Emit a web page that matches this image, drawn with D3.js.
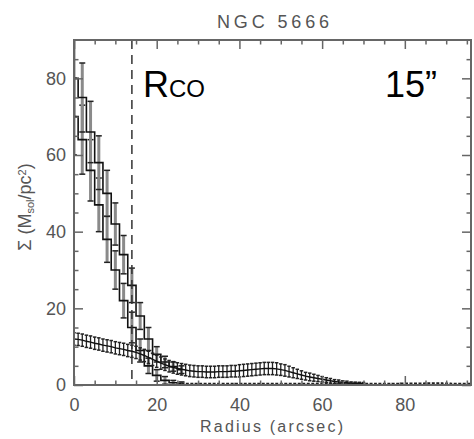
<!DOCTYPE html>
<html><head><meta charset="utf-8">
<script src="https://cdn.jsdelivr.net/npm/d3@7"></script>
<style>body{margin:0;background:#fff}svg{display:block}</style>
</head><body><svg id="c" width="474" height="439"></svg>
<script>
const titleText = "NGC 5666";
const xLabel = "Radius (arcsec)";
const xTicks = [0, 20, 40, 60, 80];
const yTicks = [0, 20, 40, 60, 80];
const xMinor = [5, 10, 15, 25, 30, 35, 45, 50, 55, 65, 70, 75, 85, 90, 95];
const yMinor = [5, 10, 15, 25, 30, 35, 45, 50, 55, 65, 70, 75, 85];
const rCO = 14;

// steep (CO) profiles, 2" bins
const steepR    = [0, 2, 4, 6, 8, 10, 12, 14, 16, 18, 20, 22, 24, 26];
const steepA    = [70, 64, 56, 47, 38, 30, 22, 15, 9, 5, 2.5, 1.2, 0.6, 0.4];
const steepAErr = [10, 9, 8, 7, 6, 5, 4.5, 4, 3, 2, 1.5, 1, 0.6, 0.4];
const steepB    = [80, 75, 66, 58, 50, 42, 34, 26, 18, 12, 8, 6, 4.8, 4];
const steepBErr = [10, 9, 8, 7, 6, 5.5, 5, 4.5, 3.5, 3, 2, 1.5, 1.2, 1];

// near-zero tail of the steep profile
const tailR = [26, 28, 30, 32, 34, 36, 38, 40, 42, 44, 46, 48, 50, 52, 54, 56, 58, 60, 62, 64, 66, 68, 70, 72, 74, 76, 78, 80, 82, 84, 86, 88, 90, 92, 94, 96];
const tailV = [0.4, 0.35, 0.3, 0.3, 0.3, 0.3, 0.3, 0.35, 0.3, 0.3, 0.3, 0.3, 0.3, 0.3, 0.3, 0.3, 0.3, 0.3, 0.3, 0.3, 0.3, 0.3, 0.3, 0.35, 0.3, 0.3, 0.35, 0.4, 0.4, 0.4, 0.45, 0.45, 0.4, 0.3, 0.3, 0.3];

// flat profile, 1" sampling
const flatR = [0,1,2,3,4,5,6,7,8,9,10,11,12,13,14,15,16,17,18,19,20,21,22,23,24,25,26,27,28,29,30,31,32,33,34,35,36,37,38,39,40,41,42,43,44,45,46,47,48,49,50,51,52,53,54,55,56,57,58,59,60,61,62,63,64,65,66,67,68,69,70];
const flatV = [12.0,11.9,11.7,11.4,11.2,10.9,10.7,10.4,10.2,10.0,9.7,9.5,9.3,9.0,8.8,8.5,8.1,7.7,7.2,6.7,6.2,5.7,5.3,4.9,4.6,4.3,4.1,3.9,3.7,3.6,3.5,3.5,3.4,3.4,3.4,3.5,3.5,3.5,3.6,3.6,3.7,3.8,3.9,4.0,4.1,4.2,4.3,4.3,4.3,4.2,4.0,3.8,3.5,3.2,2.9,2.6,2.3,2.1,1.9,1.7,1.5,1.3,1.1,0.9,0.8,0.7,0.6,0.5,0.45,0.4,0.35];
const flatErr = [1.6,1.6,1.6,1.6,1.6,1.6,1.6,1.6,1.6,1.6,1.6,1.6,1.6,1.6,1.6,1.6,1.6,1.6,1.6,1.6,1.6,1.6,1.5,1.5,1.5,1.5,1.5,1.5,1.5,1.5,1.5,1.5,1.5,1.5,1.5,1.5,1.5,1.5,1.5,1.5,1.6,1.6,1.6,1.6,1.6,1.6,1.6,1.6,1.6,1.6,1.5,1.5,1.4,1.3,1.2,1.1,1.0,1.0,0.9,0.8,0.7,0.6,0.6,0.5,0.5,0.4,0.4,0.3,0.3,0.3,0.3];

const svg = d3.select("#c");
const L = 74, R = 471, T = 40, B = 385;
const x = d3.scaleLinear().domain([0, 96]).range([L, R]);
const y = d3.scaleLinear().domain([0, 90]).range([B, T]);
const axisCol = "#666", textCol = "#555";
const tickFont = "'Liberation Sans', Arial, sans-serif";

const plot = svg.append("g");
svg.append("clipPath").attr("id", "pc").append("rect")
  .attr("x", L).attr("y", T).attr("width", R - L).attr("height", B - T);
plot.attr("clip-path", "url(#pc)");

function errBars(rs, vs, es, col, w, capW, capCol) {
  const g = plot.append("g");
  rs.forEach((r, i) => {
    const cx = x(r), y1 = y(vs[i] + es[i]), y0 = y(vs[i] - es[i]);
    g.append("line").attr("x1", cx).attr("x2", cx).attr("y1", y1).attr("y2", y0)
      .attr("stroke", col).attr("stroke-width", w);
    [y1, y0].forEach(yy => g.append("line").attr("x1", cx - capW / 2).attr("x2", cx + capW / 2)
      .attr("y1", yy).attr("y2", yy).attr("stroke", capCol).attr("stroke-width", 1.5));
  });
}

const stepLine = d3.line().x(d => x(d[0])).y(d => y(d[1])).curve(d3.curveStep);
const plainLine = d3.line().x(d => x(d[0])).y(d => y(d[1]));

errBars(steepR, steepA, steepAErr, "#8a8a8a", 3, 6, "#222");
errBars(steepR, steepB, steepBErr, "#8a8a8a", 3, 6, "#222");
plot.append("path").attr("d", stepLine(steepR.map((r, i) => [r, steepA[i]])))
  .attr("fill", "none").attr("stroke", "#111").attr("stroke-width", 1.6);
plot.append("path").attr("d", stepLine(steepR.map((r, i) => [r, steepB[i]])))
  .attr("fill", "none").attr("stroke", "#111").attr("stroke-width", 1.6);

plot.append("path").attr("d", stepLine(tailR.map((r, i) => [r, tailV[i]])))
  .attr("fill", "none").attr("stroke", "#222").attr("stroke-width", 2).attr("stroke-dasharray", "3,1.5");

errBars(flatR, flatV, flatErr, "#222", 1.3, 3.5, "#222");
plot.append("path").attr("d", plainLine(flatR.map((r, i) => [r, flatV[i]])))
  .attr("fill", "none").attr("stroke", "#111").attr("stroke-width", 1.4);

svg.append("line").attr("x1", x(rCO)).attr("x2", x(rCO)).attr("y1", y(90)).attr("y2", B)
  .attr("stroke", "#333").attr("stroke-width", 1.5).attr("stroke-dasharray", "9,6");

function styleAxis(g) {
  g.select(".domain").remove();
  g.selectAll(".tick line").attr("stroke", axisCol).attr("stroke-width", 1.5);
  g.selectAll(".tick text").attr("fill", textCol).style("font-family", tickFont).style("font-size", "18px");
}
svg.append("g").attr("transform", `translate(0,${B})`)
  .call(d3.axisBottom(x).tickValues(xTicks).tickSize(-9).tickPadding(13).tickFormat(d3.format("d"))).call(styleAxis);
svg.append("g").attr("transform", `translate(0,${B})`)
  .call(d3.axisBottom(x).tickValues(xMinor).tickSize(-4.5).tickFormat("")).call(styleAxis);
svg.append("g").attr("transform", `translate(0,${T})`)
  .call(d3.axisTop(x).tickValues(xTicks).tickSize(-9).tickFormat("")).call(styleAxis);
svg.append("g").attr("transform", `translate(0,${T})`)
  .call(d3.axisTop(x).tickValues(xMinor).tickSize(-4.5).tickFormat("")).call(styleAxis);
svg.append("g").attr("transform", `translate(${L},0)`)
  .call(d3.axisLeft(y).tickValues(yTicks).tickSize(-9).tickPadding(8).tickFormat(d3.format("d"))).call(styleAxis);
svg.append("g").attr("transform", `translate(${L},0)`)
  .call(d3.axisLeft(y).tickValues(yMinor).tickSize(-4.5).tickFormat("")).call(styleAxis);
svg.append("g").attr("transform", `translate(${R},0)`)
  .call(d3.axisRight(y).tickValues(yTicks).tickSize(-9).tickFormat("")).call(styleAxis);
svg.append("g").attr("transform", `translate(${R},0)`)
  .call(d3.axisRight(y).tickValues(yMinor).tickSize(-4.5).tickFormat("")).call(styleAxis);

svg.append("rect").attr("x", L).attr("y", T).attr("width", R - L).attr("height", B - T)
  .attr("fill", "none").attr("stroke", axisCol).attr("stroke-width", 2);

svg.append("text").attr("x", (L + R) / 2 + 0.5).attr("y", 28).attr("text-anchor", "middle")
  .attr("textLength", 112).attr("lengthAdjust", "spacing")
  .style("font-family", tickFont).style("font-size", "18px").attr("fill", textCol).text(titleText);
svg.append("text").attr("x", 271.5).attr("y", 432).attr("text-anchor", "middle")
  .attr("textLength", 143).attr("lengthAdjust", "spacing")
  .style("font-family", tickFont).style("font-size", "16px").attr("fill", textCol).text(xLabel);

const yl = svg.append("text").attr("transform", "translate(31,207) rotate(-90)").attr("text-anchor", "middle")
  .style("font-family", tickFont).style("font-size", "18px").attr("fill", textCol);
yl.append("tspan").text("Σ (M");
yl.append("tspan").attr("baseline-shift", "-30%").style("font-size", "11px").text("sol");
yl.append("tspan").text("/pc");
yl.append("tspan").attr("baseline-shift", "45%").style("font-size", "11px").text("2");
yl.append("tspan").text(")");

const ann = svg.append("text").attr("x", 143).attr("y", 97)
  .style("font-family", tickFont).attr("fill", "#000");
ann.append("tspan").style("font-size", "36px").text("R");
ann.append("tspan").style("font-size", "24px").text("CO");
svg.append("text").attr("x", 437).attr("y", 97).attr("text-anchor", "end")
  .style("font-family", tickFont).style("font-size", "36px").attr("fill", "#000").text("15”");
</script></body></html>
